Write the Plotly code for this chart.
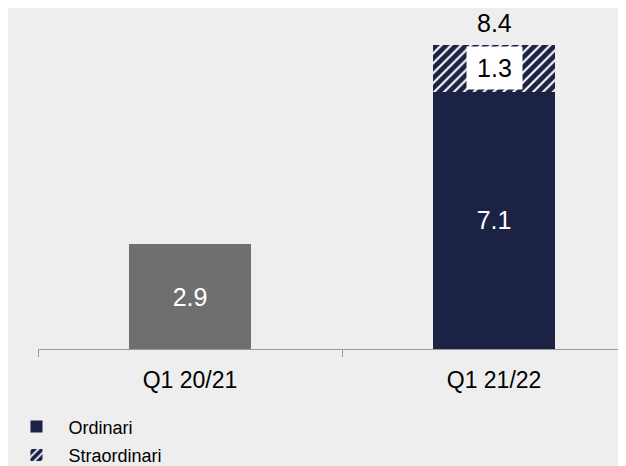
import plotly.graph_objects as go

categories = ["Q1 20/21", "Q1 21/22"]
ordinari = [2.9, 7.1]
straordinari = [None, 1.3]
totals = [None, 8.4]
series_names = ["Ordinari", "Straordinari"]

NAVY = "#1B2244"
GRAY = "#6F6F6F"
BG = "#EEEEEE"
FONT = "Liberation Sans, Arial, sans-serif"

fig = go.Figure()

fig.add_trace(go.Bar(
    x=[categories[0]], y=[ordinari[0]], width=0.4,
    marker=dict(color=GRAY, line=dict(width=0)),
    text=[f"{ordinari[0]:.1f}"], textposition="inside", insidetextanchor="middle",
    textfont=dict(color="white", size=25, family=FONT),
    showlegend=False, hoverinfo="skip",
))
fig.add_trace(go.Bar(
    x=[categories[1]], y=[ordinari[1]], width=0.4, name=series_names[0],
    legendgroup="a",
    marker=dict(color=NAVY, line=dict(width=0)),
    text=[f"{ordinari[1]:.1f}"], textposition="inside", insidetextanchor="middle",
    textfont=dict(color="white", size=25, family=FONT),
))
fig.add_trace(go.Bar(
    x=[categories[1]], y=[straordinari[1]], width=0.4, name=series_names[1],
    legendgroup="b",
    marker=dict(color="white", line=dict(width=0),
                pattern=dict(shape="/", fgcolor=NAVY, bgcolor="white", size=7,
                             solidity=0.7, fgopacity=1)),
))

fig.add_annotation(
    x=categories[1], y=ordinari[1] + straordinari[1] / 2, text=f"{straordinari[1]:.1f}",
    showarrow=False, bgcolor="white", width=53, height=40,
    font=dict(color="black", size=25, family=FONT),
)
fig.add_annotation(
    x=categories[1], y=totals[1], text=f"{totals[1]:.1f}", showarrow=False,
    yanchor="bottom", yshift=6, font=dict(color="black", size=25, family=FONT),
)

fig.update_layout(
    width=618, height=458,
    paper_bgcolor=BG, plot_bgcolor=BG,
    margin=dict(l=30, r=0, t=0, b=117, autoexpand=False),
    barmode="stack",
    font=dict(family=FONT, color="black"),
    xaxis=dict(
        type="category", categoryorder="array", categoryarray=categories,
        range=[-0.5, 1.434], tickson="boundaries", ticks="outside", ticklen=7,
        tickcolor="#999999", showline=True, linecolor="#999999", linewidth=1,
        showgrid=False, tickfont=dict(size=23, color="black"), zeroline=False,
        ticklabelstandoff=10,
    ),
    yaxis=dict(range=[0, 9.42], visible=False, showgrid=False, zeroline=False),
    legend=dict(
        x=-0.057, y=-0.174, xanchor="left", yanchor="top", orientation="v",
        font=dict(size=18, color="black"), bgcolor="rgba(0,0,0,0)", itemwidth=54,
        traceorder="grouped", tracegroupgap=2,
    ),
)

fig.write_html("out.html")
